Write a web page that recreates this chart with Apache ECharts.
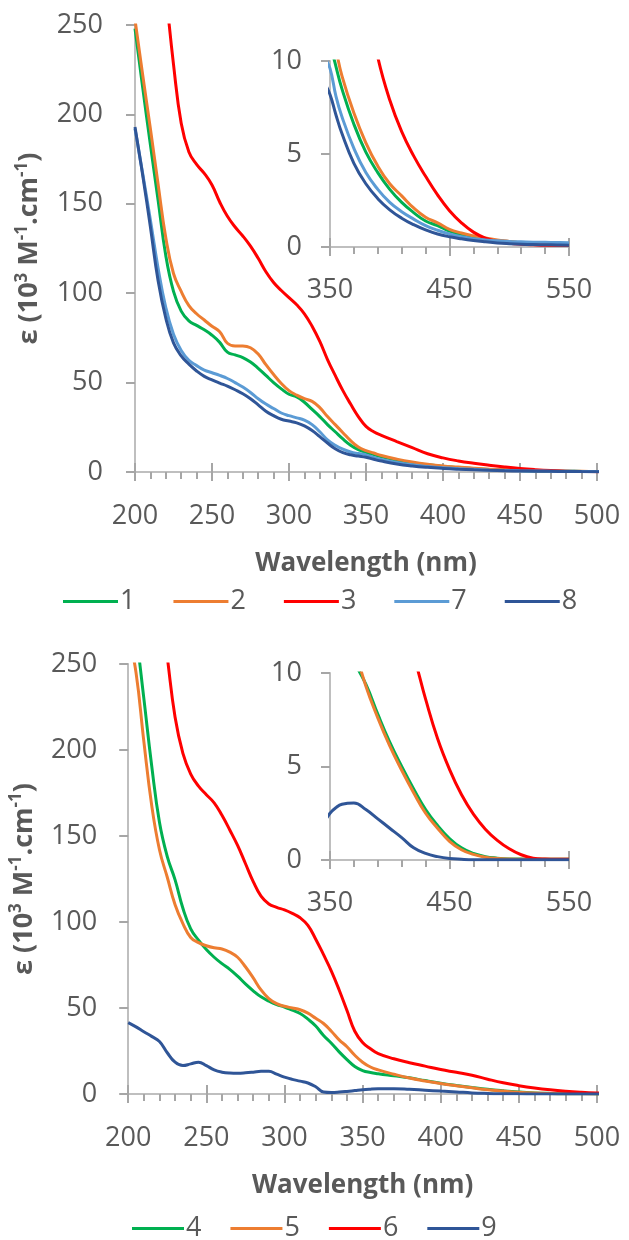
<!DOCTYPE html>
<html>
<head>
<meta charset="utf-8">
<script src="https://cdn.jsdelivr.net/npm/echarts@6/dist/echarts.min.js"></script>
<style>
  html, body { margin: 0; padding: 0; background: #fff; }
  #chart { width: 629px; height: 1240px; }
</style>
</head>
<body>
<div id="chart"></div>
<script>
// wavelengths (nm) shared by every curve
var wl = [200, 205, 210, 215, 220, 225, 230, 235, 240, 245, 250, 255, 260, 265, 270, 275, 280, 285, 290, 295,
          300, 305, 310, 315, 320, 325, 330, 335, 340, 345, 350, 355, 360,
          370, 380, 390, 400, 410, 420, 430, 440, 450, 460, 470, 480, 490, 500, 510, 520, 530, 540, 550];

// top panel: compounds 1, 2, 3, 7, 8  (epsilon, 10^3 M-1 cm-1)
var c1 = [248, 215, 183, 152, 121, 101, 90, 84.5, 82, 79.5, 76.5, 72.5, 67, 65.5, 64, 61.5, 58, 54, 50, 46.5,
          43.5, 42, 39, 35, 31, 26.5, 22.5, 18.5, 15, 12.5, 11, 9.7, 8.5,
          6.6, 5.1, 4.0, 3.1, 2.4, 1.85, 1.4, 1.15, 0.85, 0.65, 0.52, 0.42, 0.34, 0.28, 0.22, 0.18, 0.14, 0.12, 0.1];
var c2 = [253, 222, 192, 161, 131, 111, 101, 93, 88.5, 85, 81.5, 78.5, 72, 70.5, 70.5, 69.5, 66, 60, 54.5, 49.5,
          45.5, 43, 41, 39.5, 36, 31, 26.5, 22, 17.5, 14, 12, 10.6, 9.2,
          7.2, 5.6, 4.35, 3.4, 2.75, 2.1, 1.6, 1.3, 0.95, 0.75, 0.6, 0.48, 0.38, 0.3, 0.22, 0.18, 0.14, 0.12, 0.1];
var c3 = [420, 380, 345, 305, 268, 228, 195, 179, 172, 167, 160.5, 151, 143, 137, 132, 126.3, 119.5, 112, 106, 101.5,
          97.5, 93.5, 88.5, 81.5, 73, 62.9, 54, 45.5, 38, 31, 25.5, 22.5, 20.5,
          17, 13.6, 10.2, 7.9, 6.2, 4.9, 3.8, 2.8, 1.95, 1.3, 0.8, 0.48, 0.3, 0.2, 0.15, 0.12, 0.1, 0.1, 0.1];
var c7 = [192, 167, 141, 114, 92, 77, 68, 62.5, 59.5, 57, 55.5, 54, 52.3, 50, 47.5, 44.5, 41, 38, 35.5, 33,
          31.5, 30.3, 29, 26.5, 22.5, 18, 15, 12.8, 11.2, 10.3, 9.6, 8.1, 7.0,
          5.3, 4.0, 3.1, 2.4, 1.9, 1.5, 1.15, 0.9, 0.7, 0.55, 0.45, 0.38, 0.33, 0.3, 0.28, 0.26, 0.25, 0.24, 0.23];
var c8 = [193, 166, 137, 107, 86, 72.2, 65, 60.3, 56.5, 53.5, 51.5, 49.7, 48, 46, 43.8, 41, 37.5, 34, 31.5, 29.5,
          28.5, 27.5, 25.8, 23.2, 19.8, 16.2, 13, 10.8, 9.6, 8.9, 8.2, 7.1, 6.1,
          4.5, 3.4, 2.6, 2.0, 1.55, 1.2, 0.92, 0.7, 0.55, 0.44, 0.35, 0.28, 0.22, 0.18, 0.15, 0.13, 0.12, 0.11, 0.1];

// bottom panel: compounds 4, 5, 6, 9
var c4 = [300, 268, 230, 191, 158, 138, 124.5, 108, 96, 89.5, 84, 79.5, 75.8, 72.5, 68.5, 64, 60, 56.5, 54, 52,
          50.6, 48.7, 46.8, 43.5, 39.5, 34, 29.5, 24.5, 20, 16, 13.6, 12.5, 11.8,
          10.6, 9.4, 7.8, 6.3, 5.0, 3.8, 2.7, 1.85, 1.15, 0.65, 0.35, 0.18, 0.1, 0.06, 0.05, 0.04, 0.04, 0.04, 0.04];
var c5 = [268, 245, 205, 168, 142, 126, 110, 99, 91, 88, 86.2, 85, 84.3, 82.5, 79.5, 74, 67.5, 60.5, 55.5, 52.5,
          51, 50, 49, 47, 44, 41, 36.5, 31.5, 27.5, 22.5, 18.5, 15.7, 14,
          11.5, 9.3, 7.6, 6.1, 4.8, 3.6, 2.5, 1.7, 1.0, 0.55, 0.3, 0.15, 0.08, 0.05, 0.04, 0.04, 0.04, 0.04, 0.04];
var c6 = [450, 410, 370, 330, 290, 254, 219, 198, 186, 179, 174, 169.3, 162, 153.5, 144.5, 134, 123.5, 115, 110.5, 108.5,
          107, 105, 102.5, 98, 90, 81, 71.5, 60.5, 48.5, 36.5, 30, 26.3, 23.5,
          20.5, 18.2, 16.2, 14.2, 12.6, 10.9, 8.6, 6.5, 4.85, 3.5, 2.45, 1.65, 1.05, 0.6, 0.28, 0.1, 0.05, 0.04, 0.04];
var c9 = [41.5, 39, 36.2, 33.5, 30.5, 24, 18.5, 16.5, 17.5, 18.5, 16.5, 14, 12.7, 12.2, 12.1, 12.3, 12.7, 13.2, 13.2, 11.5,
          9.8, 8.5, 7.5, 6.4, 4.2, 1.2, 0.9, 1.1, 1.5, 2.0, 2.5, 2.8, 2.98,
          3.05, 2.7, 2.2, 1.7, 1.2, 0.65, 0.35, 0.18, 0.08, 0.04, 0.02, 0.02, 0.02, 0.02, 0.02, 0.02, 0.02, 0.02, 0.02];

var topNames = ['1', '2', '3', '7', '8'];
var topData = [c1, c2, c3, c7, c8];
var topColors = ['#00b050', '#ed7d31', '#ff0000', '#5b9bd5', '#2f5597'];
var botNames = ['4', '5', '6', '9'];
var botData = [c4, c5, c6, c9];
var botColors = ['#00b050', '#ed7d31', '#ff0000', '#2f5597'];

var font = 'Open Sans';
var grey = '#595959';
var axisGrey = '#bfbfbf';
var tickGrey = '#a6a6a6';

function pairs(vals) {
    return wl.map(function (w, i) { return [w, vals[i]]; });
}

function tickStyle(len, inside) {
    return { show: true, inside: !!inside, length: len, lineStyle: { color: tickGrey, width: 2 } };
}
function minorStyle() {
    return { show: true, splitNumber: 5, length: 7, lineStyle: { color: tickGrey, width: 2 } };
}

function xMain(grid) {
    return {
        type: 'value', gridIndex: grid, position: 'bottom', min: 200, max: 500, interval: 50,
        name: 'Wavelength (nm)', nameLocation: 'middle', nameGap: 79,
        nameTextStyle: { fontFamily: font, fontSize: 26, fontWeight: 'bold', color: grey },
        axisLine: { show: true, onZero: false, lineStyle: { color: axisGrey, width: 2 } },
        axisTick: tickStyle(9),
        minorTick: minorStyle(),
        axisLabel: { fontFamily: font, fontSize: 27, color: grey, margin: 31 },
        splitLine: { show: false }
    };
}
function xInset(grid) {
    return {
        type: 'value', gridIndex: grid, position: 'bottom', min: 350, max: 550, interval: 100,
        axisLine: { show: true, onZero: false, lineStyle: { color: axisGrey, width: 2 } },
        axisTick: tickStyle(9),
        minorTick: minorStyle(),
        axisLabel: { fontFamily: font, fontSize: 27, color: grey, margin: 30 },
        splitLine: { show: false }
    };
}
// same ticks again, drawn inside, so major ticks cross the axis line
function xCross(grid, min, max, interval) {
    return {
        type: 'value', gridIndex: grid, position: 'bottom', min: min, max: max, interval: interval,
        axisLine: { show: false, onZero: false },
        axisTick: tickStyle(9, true),
        axisLabel: { show: false },
        splitLine: { show: false }
    };
}
function yAxis(grid, max, interval, margin, withName, gap) {
    return {
        type: 'value', gridIndex: grid, position: 'left', min: 0, max: max, interval: interval,
        name: withName ? 'ε (10{s|3} M{s|-1}.cm{s|-1})' : '',
        nameLocation: 'middle', nameRotate: 90, nameGap: gap,
        nameTextStyle: {
            fontFamily: font, fontSize: 27, fontWeight: 'bold', color: grey, lineHeight: 32,
            rich: { s: { fontFamily: font, fontSize: 17, fontWeight: 'bold', color: grey, verticalAlign: 'top', lineHeight: 32 } }
        },
        axisLine: { show: true, onZero: false, lineStyle: { color: axisGrey, width: 2 } },
        axisTick: tickStyle(9),
        axisLabel: { fontFamily: font, fontSize: 27, color: grey, margin: margin },
        splitLine: { show: false }
    };
}

var series = [];
function addSeries(names, data, colors, xMainIdx, yMainIdx, xInIdx, yInIdx) {
    names.forEach(function (n, i) {
        [[xMainIdx, yMainIdx], [xInIdx, yInIdx]].forEach(function (ax) {
            series.push({
                name: n, type: 'line', xAxisIndex: ax[0], yAxisIndex: ax[1],
                data: pairs(data[i]), showSymbol: false, symbol: 'none',
                smooth: 0.45, clip: true,
                lineStyle: { width: 3, color: colors[i] },
                itemStyle: { color: colors[i] }
            });
        });
    });
}
addSeries(topNames, topData, topColors, 0, 0, 1, 1);
addSeries(botNames, botData, botColors, 2, 2, 3, 3);

var legendText = { fontFamily: font, fontSize: 27, color: grey, padding: [0, 0, 0, -3] };

var chart = echarts.init(document.getElementById('chart'));
var option = {
    animation: false,
    grid: [
        { left: 135, top: 25, width: 462, height: 447 },
        { left: 330, top: 61, width: 239, height: 186 },
        { left: 127, top: 664, width: 470, height: 430 },
        { left: 330, top: 673, width: 239, height: 187 }
    ],
    xAxis: [
        xMain(0), xInset(1), xMain(2), xInset(3),
        xCross(0, 200, 500, 50), xCross(1, 350, 550, 100), xCross(2, 200, 500, 50), xCross(3, 350, 550, 100)
    ],
    yAxis: [
        yAxis(0, 250, 50, 32, true, 81),
        yAxis(1, 10, 5, 28, false, 0),
        yAxis(2, 250, 50, 31, true, 73),
        yAxis(3, 10, 5, 28, false, 0)
    ],
    legend: [
        {
            data: topNames, left: 63, top: 588, padding: 0, icon: 'rect', itemWidth: 55, itemHeight: 3, itemGap: 38,
            textStyle: legendText
        },
        {
            data: botNames, left: 132, top: 1215, padding: 0, icon: 'rect', itemWidth: 52, itemHeight: 3, itemGap: 29,
            textStyle: legendText
        }
    ],
    series: series
};
chart.setOption(option);
</script>
</body>
</html>
